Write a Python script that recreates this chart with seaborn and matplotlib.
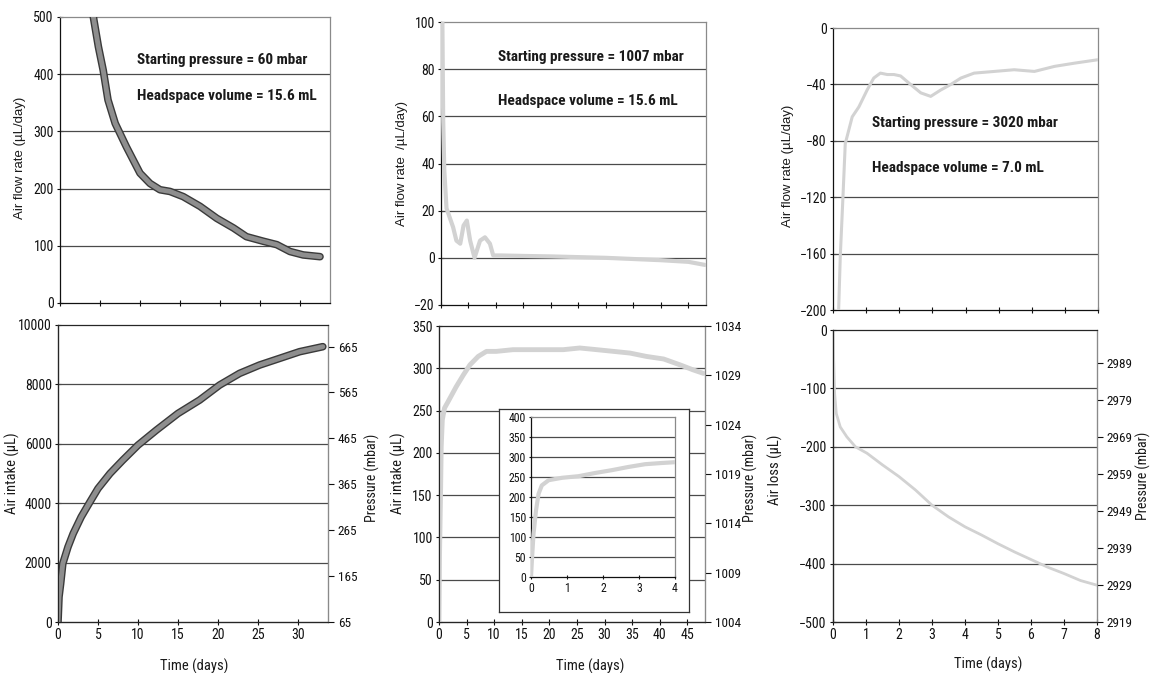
import matplotlib
matplotlib.use("Agg")
import matplotlib.pyplot as plt
import matplotlib.patheffects as pe
import seaborn as sns
import pandas as pd

# ---------------- data ----------------
# Panel A (top-left): air flow rate, starting pressure 60 mbar
a_rate_days = [3.9, 4.17, 4.8, 5.4, 6.0, 6.9, 8.3, 10.0, 11.25, 12.5, 13.75, 15.4, 17.5,
               19.6, 21.7, 23.3, 25.4, 27.1, 28.75, 30.4, 32.5]
a_rate_vals = [540, 500, 448, 407, 355, 314, 273, 227, 209, 198, 195, 186, 169,
               148, 131, 116, 108, 102, 90, 84, 81]
# Panel D (bottom-left): air intake
a_int_days = [0, 0.125, 0.33, 0.6, 1.25, 1.9, 2.9, 4.0, 5.0, 6.5, 8.1, 10.0, 12.3, 15.0,
              17.7, 20.2, 22.7, 25.2, 27.7, 30.2, 33.1]
a_int_vals = [0, 843, 1292, 1966, 2528, 2978, 3539, 4045, 4494, 5000, 5449, 5955, 6461,
              7022, 7472, 7978, 8371, 8652, 8876, 9101, 9270]

# Panel B (top-middle): air flow rate, starting pressure 1007 mbar
b_rate_days = [0.25, 0.4, 0.6, 1.0, 1.6, 2.2, 2.8, 3.5, 4.1, 4.7, 5.3, 6.1, 7.1, 8.0, 8.9,
               9.5, 11, 15, 20, 25, 30, 35, 40, 45, 48]
b_rate_vals = [100, 58, 37, 21, 17, 13, 7.3, 6, 13.7, 15.8, 7.3, 0, 7.3, 8.7, 6,
               1, 1, 0.8, 0.6, 0.3, 0, -0.5, -1.0, -1.7, -3]
# Panel E (bottom-middle): air intake
b_int_days = [0, 0.1, 0.3, 0.4, 0.6, 1.0, 1.6, 3.1, 4.4, 5.6, 7.1, 8.6, 10.4, 13.4, 16.5,
              19.5, 22.5, 25.5, 28.6, 31.6, 34.6, 37.6, 40.7, 43.7, 46.1, 47.9]
b_int_vals = [0, 81, 160, 207, 239, 253, 260, 278, 292, 304, 314, 320, 320, 322, 322,
              322, 322, 324, 322, 320, 318, 314, 311, 304, 298, 294]
# Inset: first 4 days
b_ins_days = [0, 0.03, 0.07, 0.14, 0.21, 0.3, 0.49, 0.86, 1.32, 1.78, 2.24, 2.7, 3.17, 3.63, 4.0]
b_ins_vals = [0, 50, 108, 167, 208, 229, 242, 248, 252, 260, 267, 275, 282, 285, 287]

# Panel C (top-right): air flow rate, starting pressure 3020 mbar
c_rate_days = [0.17, 0.22, 0.3, 0.37, 0.58, 0.78, 1.03, 1.23, 1.43, 1.64, 1.84, 2.04, 2.34,
               2.65, 2.95, 3.25, 3.56, 3.86, 4.26, 4.87, 5.47, 6.08, 6.69, 7.3, 8.0]
c_rate_vals = [-200, -162, -120, -82, -63, -56, -44, -35.5, -32, -33, -33, -34, -40,
               -46, -48.5, -44, -40, -35.5, -32, -30.8, -29.6, -30.8, -27.2, -24.9, -22.5]
# Panel F (bottom-right): air loss
c_loss_days = [0, 0.02, 0.05, 0.1, 0.22, 0.42, 0.68, 1.03, 1.5, 2.0, 2.5, 3.0, 3.5, 4.0,
               4.5, 5.0, 5.5, 6.0, 6.5, 7.0, 7.5, 8.0]
c_loss_vals = [0, -51, -109, -143, -166, -183, -200, -211, -231, -251, -274, -300, -320,
               -337, -351, -366, -380, -393, -406, -417, -429, -437]

# tick labels / limits
a_x_ticks = [0, 5, 10, 15, 20, 25, 30]
b_x_ticks = [0, 5, 10, 15, 20, 25, 30, 35, 40, 45]
c_x_ticks = [0, 1, 2, 3, 4, 5, 6, 7, 8]
a_p_ticks = [65, 165, 265, 365, 465, 565, 665]
b_p_ticks = [1004, 1009, 1014, 1019, 1024, 1029, 1034]
c_p_ticks = [2919, 2929, 2939, 2949, 2959, 2969, 2979, 2989]

a_texts = ["Starting pressure = 60 mbar", "Headspace volume = 15.6 mL"]
b_texts = ["Starting pressure = 1007 mbar", "Headspace volume = 15.6 mL"]
c_texts = ["Starting pressure = 3020 mbar", "Headspace volume = 7.0 mL"]

rate_label_a = "Air flow rate (µL/day)"
rate_label_b = "Air flow rate  /µL/day)"
intake_label = "Air intake (µL)"
loss_label = "Air loss (µL)"
pressure_label = "Pressure (mbar)"
time_label = "Time (days)"

# ---------------- style ----------------
sns.set_style("white")
COND = ['Roboto Condensed', 'Liberation Sans', 'DejaVu Sans']
REG = ['Liberation Sans', 'DejaVu Sans']
plt.rcParams['font.family'] = COND
W, H = 1151, 673
fig = plt.figure(figsize=(W / 100, H / 100), dpi=100)
fig.patch.set_facecolor("white")


def px_axes(x0, y0, x1, y1, **kw):
    return fig.add_axes([x0 / W, (H - y1) / H, (x1 - x0) / W, (y1 - y0) / H], **kw)


def ftext(x, y, s, **kw):
    fig.text(x / W, (H - y) / H, s, ha='center', va='center', color="#1a1a1a", **kw)


GRID = "#4a4a4a"
TICKFS = 10
INK = "#111111"


def style_axes(ax, ylim, yticks, xlim, xticks, show_xlabels):
    ax.set_xlim(*xlim)
    ax.set_ylim(*ylim)
    ax.set_yticks(yticks)
    ax.set_xticks(xticks)
    for t in yticks:
        if t not in (ylim[0], ylim[1]):
            ax.axhline(t, color=GRID, lw=0.9, zorder=1)
    ax.spines['left'].set_color(INK)
    ax.spines['bottom'].set_color(INK)
    ax.spines['top'].set_color("#8a8a8a")
    ax.spines['right'].set_color("#8a8a8a")
    for s in ax.spines.values():
        s.set_linewidth(0.9)
    ax.tick_params(axis='both', direction='inout', length=5, width=0.8,
                   labelsize=TICKFS, pad=2, colors=INK, bottom=True, left=True)
    if not show_xlabels:
        ax.tick_params(axis='x', labelbottom=False)
    ax.set_xlabel("")
    ax.set_ylabel("")


def add_right(ax, ylim, ticks):
    r = ax.twinx()
    r.set_ylim(*ylim)
    r.set_yticks(ticks)
    r.tick_params(axis='y', direction='out', length=4, width=0.8, labelsize=9.5,
                  pad=3, colors=INK, right=True)
    r.spines['right'].set_color("#8a8a8a")
    r.grid(False)
    return r


def annot(x0, y0, y1, texts):
    for t, y in zip(texts, (y0, y1)):
        fig.text(x0 / W, (H - y) / H, t, fontsize=11, fontweight='bold',
                 family=COND, ha='left', va='center', color="#1a1a1a")


dark_fx = [pe.Stroke(linewidth=5.5, foreground="#3a3a3a"), pe.Normal()]
LIGHT = "#d2d2d2"

# ---------------- Column A ----------------
axA = px_axes(60, 17, 330, 303)
dfA = pd.DataFrame({"day": a_rate_days, "rate": a_rate_vals})
sns.lineplot(data=dfA, x="day", y="rate", ax=axA, color="#8e8e8e", lw=3.5,
             path_effects=dark_fx, zorder=3)
style_axes(axA, (0, 500), [0, 100, 200, 300, 400, 500], (0, 33.75), a_x_ticks, False)
annot(137, 60, 96, a_texts)
ftext(20, 158, rate_label_a, rotation=90, fontsize=9.5, family=REG)

axD = px_axes(58, 325, 328, 622)
dfD = pd.DataFrame({"day": a_int_days, "intake": a_int_vals})
sns.lineplot(data=dfD, x="day", y="intake", ax=axD, color="#8e8e8e", lw=3.5,
             path_effects=dark_fx, zorder=3)
style_axes(axD, (0, 10000), [0, 2000, 4000, 6000, 8000, 10000], (0, 33.75), a_x_ticks, True)
add_right(axD, (65, 712), a_p_ticks)
ftext(12, 473, intake_label, rotation=90, fontsize=10.5)
ftext(372, 478, pressure_label, rotation=90, fontsize=10)
ftext(194, 666, time_label, fontsize=10.5)

# ---------------- Column B ----------------
axB = px_axes(441, 22, 706, 305)
dfB = pd.DataFrame({"day": b_rate_days, "rate": b_rate_vals})
sns.lineplot(data=dfB, x="day", y="rate", ax=axB, color=LIGHT, lw=3.0, zorder=3)
style_axes(axB, (-20, 100), [-20, 0, 20, 40, 60, 80, 100], (0, 48.2), b_x_ticks, False)
annot(498, 57, 101, b_texts)
ftext(402, 163, rate_label_b, rotation=90, fontsize=9.5, family=REG)

axE = px_axes(439, 326, 705, 622)
dfE = pd.DataFrame({"day": b_int_days, "intake": b_int_vals})
sns.lineplot(data=dfE, x="day", y="intake", ax=axE, color=LIGHT, lw=3.5, zorder=3)
style_axes(axE, (0, 350), [0, 50, 100, 150, 200, 250, 300, 350], (0, 48.2), b_x_ticks, True)
add_right(axE, (1004, 1034), b_p_ticks)
ftext(398, 473, intake_label, rotation=90, fontsize=10.5)
ftext(750, 478, pressure_label, rotation=90, fontsize=10)
ftext(590, 666, time_label, fontsize=10.5)

# inset frame + inset axes
frame = px_axes(499, 409, 689, 612)
frame.set_xticks([])
frame.set_yticks([])
frame.set_facecolor("white")
for s in frame.spines.values():
    s.set_color("#333333")
    s.set_linewidth(0.9)
axI = px_axes(531, 417, 675, 577)
dfI = pd.DataFrame({"day": b_ins_days, "intake": b_ins_vals})
sns.lineplot(data=dfI, x="day", y="intake", ax=axI, color=LIGHT, lw=3.0, zorder=3)
style_axes(axI, (0, 400), [0, 50, 100, 150, 200, 250, 300, 350, 400], (0, 4), [0, 1, 2, 3, 4], True)
axI.tick_params(labelsize=8.5, length=3)

# ---------------- Column C ----------------
axC = px_axes(833, 28, 1098, 310)
dfC = pd.DataFrame({"day": c_rate_days, "rate": c_rate_vals})
sns.lineplot(data=dfC, x="day", y="rate", ax=axC, color=LIGHT, lw=2.2, zorder=3)
style_axes(axC, (-200, 0), [-200, -160, -120, -80, -40, 0], (0, 8), c_x_ticks, False)
annot(872, 123, 168, c_texts)
ftext(788, 166, rate_label_a, rotation=90, fontsize=9.5, family=REG)

axF = px_axes(833, 330, 1097, 622)
dfF = pd.DataFrame({"day": c_loss_days, "loss": c_loss_vals})
sns.lineplot(data=dfF, x="day", y="loss", ax=axF, color=LIGHT, lw=2.0, zorder=3)
style_axes(axF, (-500, 0), [-500, -400, -300, -200, -100, 0], (0, 8), c_x_ticks, True)
add_right(axF, (2919, 2998), c_p_ticks)
ftext(775, 470, loss_label, rotation=90, fontsize=10.5)
ftext(1143, 476, pressure_label, rotation=90, fontsize=10)
ftext(988, 664, time_label, fontsize=10.5)

fig.savefig("out.png", dpi=100, facecolor="white")
